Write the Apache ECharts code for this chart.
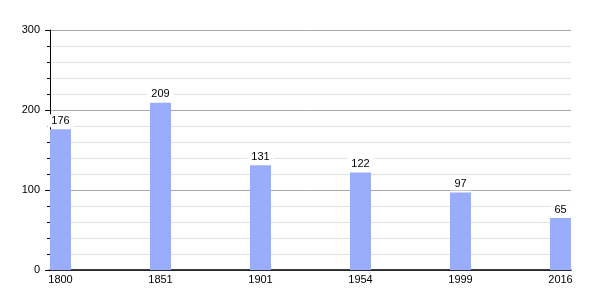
<!DOCTYPE html>
<html>
<head>
<meta charset="utf-8">
<script src="https://cdn.jsdelivr.net/npm/echarts@6/dist/echarts.min.js"></script>
<style>html,body{margin:0;padding:0;background:#fff}#c{width:600px;height:300px}</style>
</head>
<body>
<div id="c"></div>
<script>
const years = ['1800', '1851', '1901', '1954', '1999', '2016'];
const population = [176, 209, 131, 122, 97, 65];
const yTicks = [0, 100, 200, 300];

const chart = echarts.init(document.getElementById('c'), null, {renderer: 'canvas'});
const font = 'Liberation Sans, Arial, sans-serif';
chart.setOption({
  animation: false,
  backgroundColor: '#fff',
  grid: {left: 50, right: 29, top: 30, bottom: 30, containLabel: false},
  xAxis: {
    type: 'value',
    min: -0.105,
    max: 5.105,
    splitLine: {show: false},
    axisLine: {show: true, onZero: false, lineStyle: {color: '#000', width: 1.5}},
    axisTick: {show: false},
    axisLabel: {
      customValues: years.map((_, i) => i),
      formatter: v => years[Math.round(v)],
      color: '#000', fontSize: 11, fontFamily: font, margin: 4
    }
  },
  yAxis: {
    type: 'value',
    min: yTicks[0],
    max: yTicks[yTicks.length - 1],
    interval: 100,
    axisLine: {show: true, onZero: false, lineStyle: {color: '#000', width: 1}},
    axisTick: {show: true, inside: false, length: 5, lineStyle: {color: '#000'}},
    minorTick: {show: true, splitNumber: 5, length: 3, lineStyle: {color: '#000'}},
    splitLine: {show: true, lineStyle: {color: '#a8a8a8', width: 1}},
    minorSplitLine: {show: true, lineStyle: {color: '#e2e2e2', width: 1}},
    axisLabel: {color: '#000', fontSize: 11, fontFamily: font, margin: 10}
  },
  series: [{
    type: 'bar',
    data: population.map((v, i) => [i, v]),
    barWidth: 21,
    itemStyle: {color: '#9aacfc'},
    label: {
      show: true, position: 'top', distance: 2,
      color: '#000', fontSize: 11, fontFamily: font,
      backgroundColor: '#fff', padding: [1, 4, 1, 4],
      formatter: p => p.value[1]
    }
  }]
});
</script>
</body>
</html>
